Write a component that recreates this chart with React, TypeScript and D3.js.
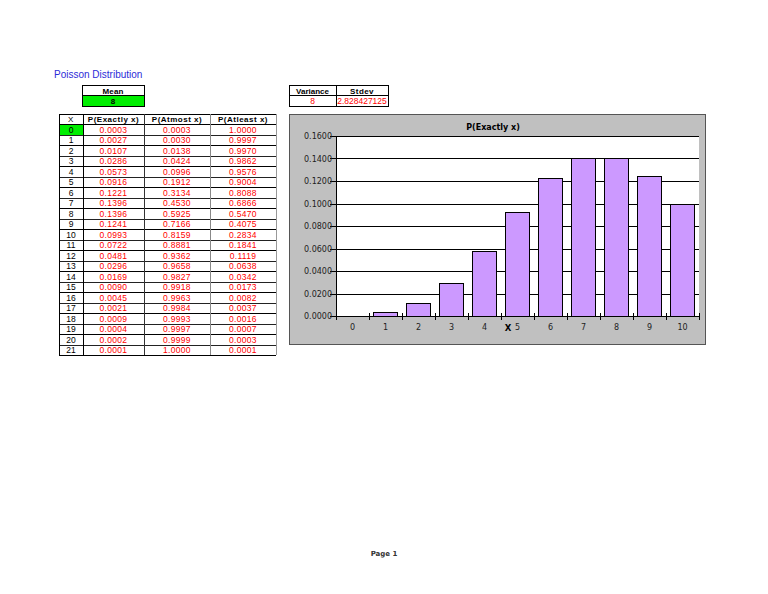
import React from "react";
import * as d3 from "d3";

const xValues = Array.from({ length: 22 }, (_, i) => i);
const pExactly = [0.0003, 0.0027, 0.0107, 0.0286, 0.0573, 0.0916, 0.1221, 0.1396, 0.1396, 0.1241, 0.0993, 0.0722, 0.0481, 0.0296, 0.0169, 0.009, 0.0045, 0.0021, 0.0009, 0.0004, 0.0002, 0.0001];
const pAtmost = [0.0003, 0.003, 0.0138, 0.0424, 0.0996, 0.1912, 0.3134, 0.453, 0.5925, 0.7166, 0.8159, 0.8881, 0.9362, 0.9658, 0.9827, 0.9918, 0.9963, 0.9984, 0.9993, 0.9997, 0.9999, 1.0];
const pAtleast = [1.0, 0.9997, 0.997, 0.9862, 0.9576, 0.9004, 0.8088, 0.6866, 0.547, 0.4075, 0.2834, 0.1841, 0.1119, 0.0638, 0.0342, 0.0173, 0.0082, 0.0037, 0.0016, 0.0007, 0.0003, 0.0001];
const tableHeaders = ["X", "P(Exactly x)", "P(Atmost x)", "P(Atleast x)"];
const chartCategories = [0, 1, 2, 3, 4, 5, 6, 7, 8, 9, 10];
const chartValues = pExactly.slice(0, 11);
const yTicks = [0, 0.02, 0.04, 0.06, 0.08, 0.1, 0.12, 0.14, 0.16];
const meanValue = "8";
const varianceValue = "8";
const stdevValue = "2.828427125";

const fmt = d3.format(".4f");
const TF = "'Liberation Sans', Arial, sans-serif";
const CF = "'DejaVu Sans', sans-serif";

export default function App() {
  const colX = [59, 83, 144, 210, 276];
  const headTop = 114;
  const rowTop = 124.3;
  const rowH = 10.5;
  const rowY = d3.scaleLinear().domain([0, 1]).range([rowTop, rowTop + rowH]);

  const x = d3.scaleBand<number>().domain(chartCategories).range([336, 699]).paddingInner(0.3).paddingOuter(0.15);
  const y = d3.scaleLinear().domain([0, 0.16]).range([316, 136]);
  const step = x.step();
  const boundaries = chartCategories.map((c) => (x(c) as number) - (step * 0.3) / 2);
  boundaries.push(699);

  const vColors = ["#000", "#000", "#333", "#888", "#999"];

  return (
    <svg width={768} height={594} style={{ position: "absolute", left: 0, top: 0, background: "#fff" }} shapeRendering="crispEdges">
      <text x={54} y={78} fontFamily={TF} fontSize={10} fill="#2b2bd8" shapeRendering="auto">Poisson Distribution</text>

      <rect x={82} y={85.5} width={62} height={10} fill="#fff" stroke="#000" />
      <rect x={82} y={95.5} width={62} height={10.5} fill="#00ee00" stroke="#000" />
      <text x={113} y={93.5} textAnchor="middle" fontFamily={TF} fontSize={8} fontWeight="bold" letterSpacing={0.2}>Mean</text>
      <text x={113} y={104} textAnchor="middle" fontFamily={TF} fontSize={8} fontWeight="bold" fill="#000">{meanValue}</text>

      <rect x={289} y={85.5} width={99} height={10} fill="#fff" stroke="#000" />
      <rect x={289} y={95.5} width={99} height={10.5} fill="#fff" stroke="#000" />
      <line x1={336} x2={336} y1={85.5} y2={106} stroke="#000" />
      <text x={312.5} y={93.5} textAnchor="middle" fontFamily={TF} fontSize={8} fontWeight="bold">Variance</text>
      <text x={362} y={93.5} textAnchor="middle" fontFamily={TF} fontSize={8} fontWeight="bold" letterSpacing={0.4}>Stdev</text>
      <text x={312.5} y={104} textAnchor="middle" fontFamily={TF} fontSize={8.5} fill="#f00">{varianceValue}</text>
      <text x={362} y={104} textAnchor="middle" fontFamily={TF} fontSize={8.5} fill="#f00">{stdevValue}</text>

      <rect x={colX[0]} y={headTop} width={colX[4] - colX[0]} height={rowTop - headTop} fill="#fff" />
      <rect x={colX[0]} y={rowTop} width={colX[1] - colX[0]} height={rowH} fill="#00ee00" />
      {tableHeaders.map((h, i) => (
        <text key={h} x={(colX[i] + colX[i + 1]) / 2} y={headTop + 8} textAnchor="middle" fontFamily={TF} fontSize={8} fontWeight={i === 0 ? "normal" : "bold"} letterSpacing={0.5}>{h}</text>
      ))}
      {xValues.map((v, i) => (
        <g key={v}>
          <text x={(colX[0] + colX[1]) / 2} y={rowY(i) + 8.3} textAnchor="middle" fontFamily={TF} fontSize={8.5}>{v}</text>
          <text x={(colX[1] + colX[2]) / 2} y={rowY(i) + 8.3} textAnchor="middle" fontFamily={TF} fontSize={8.5} fill="#f00" letterSpacing={0.3}>{fmt(pExactly[i])}</text>
          <text x={(colX[2] + colX[3]) / 2} y={rowY(i) + 8.3} textAnchor="middle" fontFamily={TF} fontSize={8.5} fill="#f00" letterSpacing={0.3}>{fmt(pAtmost[i])}</text>
          <text x={(colX[3] + colX[4]) / 2} y={rowY(i) + 8.3} textAnchor="middle" fontFamily={TF} fontSize={8.5} fill="#f00" letterSpacing={0.3}>{fmt(pAtleast[i])}</text>
        </g>
      ))}
      <line x1={colX[0]} x2={colX[4]} y1={headTop} y2={headTop} stroke="#000" />
      {d3.range(0, xValues.length + 1).map((i) => (
        <line key={i} x1={colX[0]} x2={colX[4]} y1={Math.round(rowY(i))} y2={Math.round(rowY(i))} stroke={i % 2 === 0 ? "#000" : "#222"} />
      ))}
      {colX.map((cx, i) => (
        <line key={i} x1={cx} x2={cx} y1={headTop} y2={Math.round(rowY(xValues.length))} stroke={vColors[i]} />
      ))}

      <rect x={289.5} y={114.5} width={416} height={230} fill="#c0c0c0" stroke="#555" />
      <rect x={336} y={136} width={363} height={180} fill="#fff" />
      <text x={493} y={130} textAnchor="middle" fontFamily={CF} fontSize={8} fontWeight="bold" shapeRendering="auto">P(Exactly x)</text>
      {yTicks.map((t) => (
        <g key={t}>
          <line x1={330} x2={699} y1={Math.round(y(t))} y2={Math.round(y(t))} stroke="#000" />
          <text x={332} y={y(t) + 3} textAnchor="end" fontFamily={CF} fontSize={8} fill="#222" shapeRendering="auto">{fmt(t)}</text>
        </g>
      ))}
      <line x1={336} x2={336} y1={136} y2={316} stroke="#000" />
      {chartCategories.map((c, i) => (
        y(0) - y(chartValues[i]) >= 1 ? (
          <rect key={c} x={x(c)} y={y(chartValues[i])} width={x.bandwidth()} height={316 - y(chartValues[i])} fill="#cc99ff" stroke="#000" />
        ) : null
      ))}
      {boundaries.map((b, i) => (
        <line key={i} x1={Math.round(b)} x2={Math.round(b)} y1={313} y2={320} stroke="#000" />
      ))}
      {chartCategories.map((c) => (
        <text key={c} x={(x(c) as number) + x.bandwidth() / 2} y={330} textAnchor="middle" fontFamily={CF} fontSize={8} fill="#222" shapeRendering="auto">{c}</text>
      ))}
      <text x={508} y={330.5} textAnchor="middle" fontFamily={CF} fontSize={8.5} fontWeight="bold" shapeRendering="auto">X</text>

      <text x={384} y={556} textAnchor="middle" fontFamily={CF} fontSize={7} fontWeight="bold" fill="#333" shapeRendering="auto">Page 1</text>
    </svg>
  );
}
